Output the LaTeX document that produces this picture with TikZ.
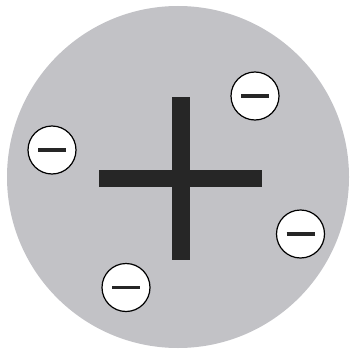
\documentclass[tikz,border=0pt]{standalone}
\definecolor{diskgray}{RGB}{194,194,198}
\definecolor{chargeblack}{RGB}{38,38,38}
\begin{document}
\begin{tikzpicture}[x=1pt, y=-1pt, line join=round, line cap=butt,
	electron/.style={circle, draw=black, fill=white, line width=1.2pt, minimum size=48pt, inner sep=0pt}]
	\useasboundingbox (0,0) rectangle (349,350);
	% the positive body
	\fill[diskgray] (178,177) circle (171);
	\fill[chargeblack] (98.5,169.5) rectangle (261.5,186.5);
	\fill[chargeblack] (171.5,97.5) rectangle (189.5,260);
	% the electrons
	\foreach \n/\x/\y in {e1/255/96, e2/52/150, e3/300.5/234, e4/126/287.5}{
		\node[electron] (\n) at (\x,\y) {};
		\draw[chargeblack, line width=3.8pt] ([xshift=-14pt]\n.center) -- ([xshift=14pt]\n.center);
	}
\end{tikzpicture}
\end{document}
